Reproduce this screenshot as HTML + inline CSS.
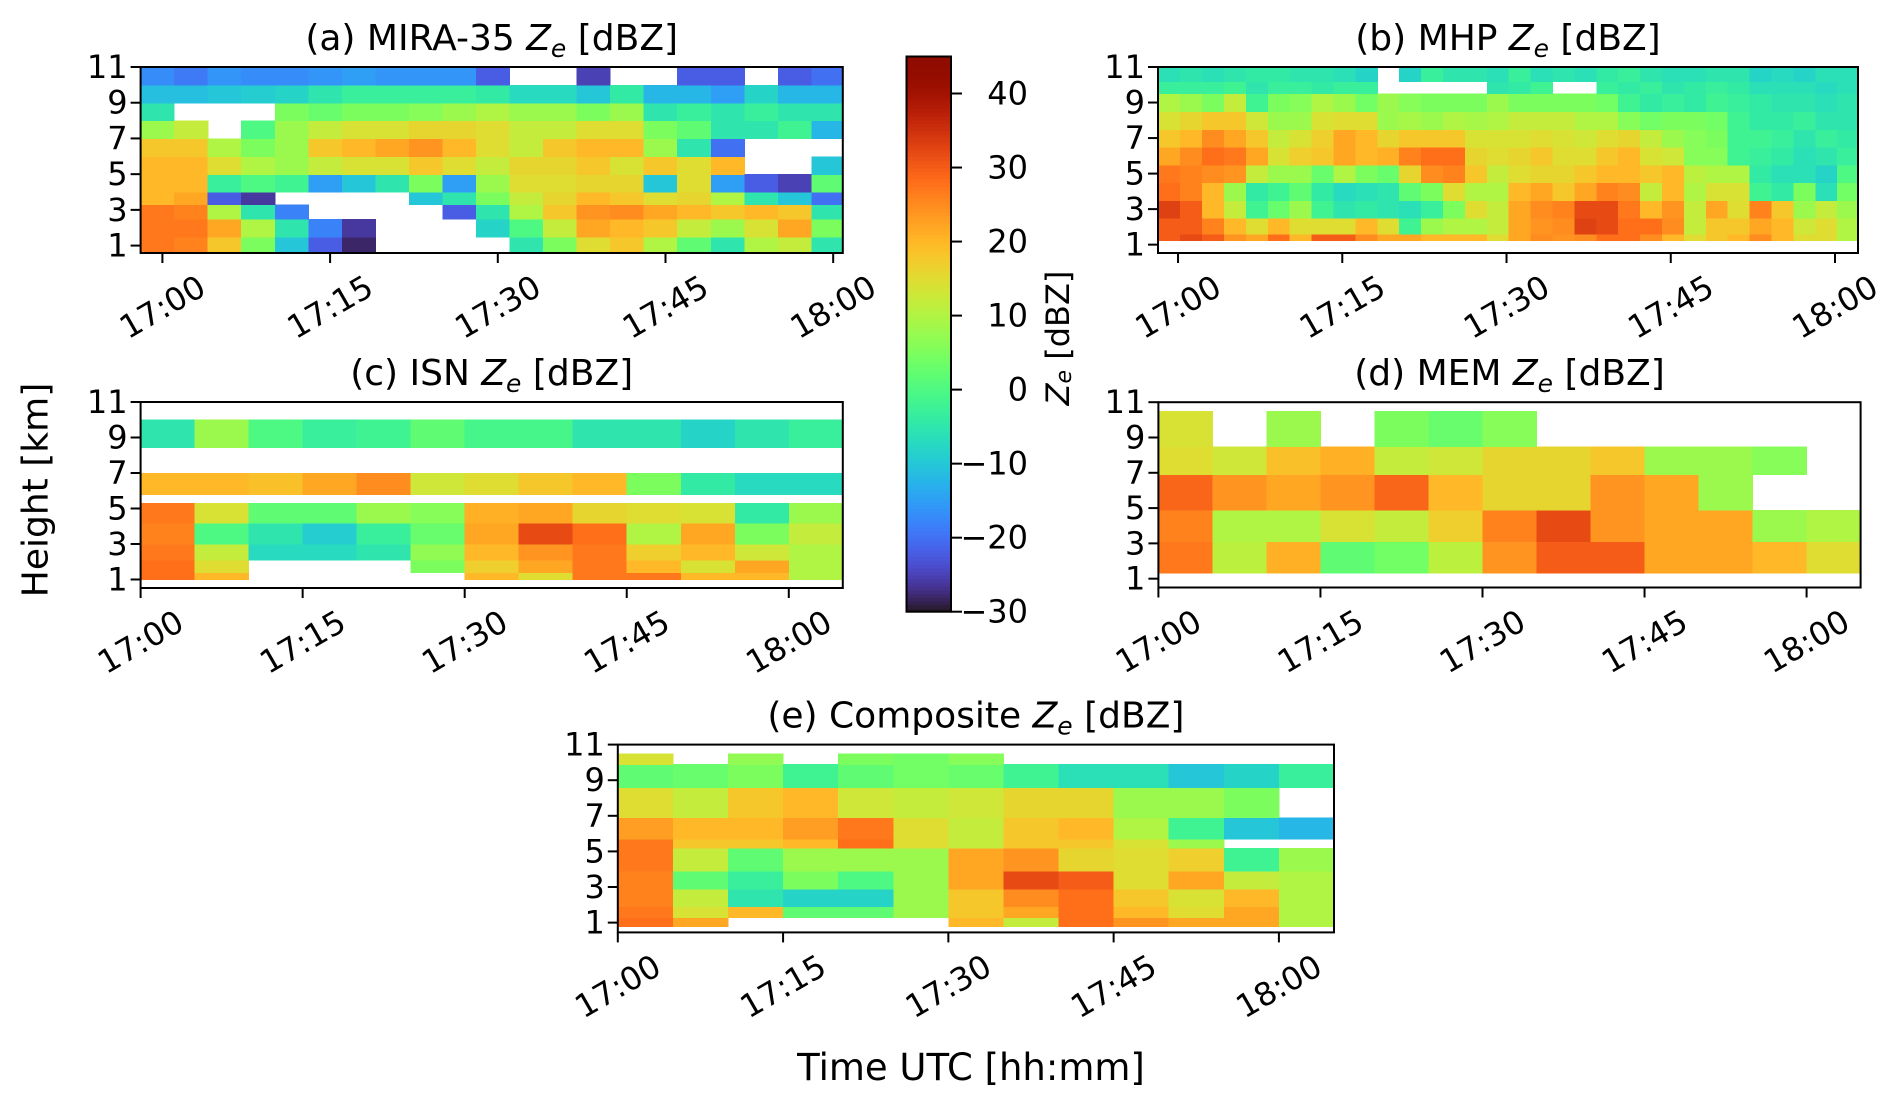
<!DOCTYPE html>
<html><head><meta charset="utf-8">
<style>
html,body{margin:0;padding:0;background:#fff;}
svg{display:block;font-family:"DejaVu Sans","Liberation Sans",sans-serif;}
</style></head>
<body>
<svg id="fig" width="1892" height="1105" viewBox="0 0 1892 1105" xmlns="http://www.w3.org/2000/svg">
<defs id="defs"></defs>
</svg>
<script>
// ---------- data (values in dBZ; null = no echo) ----------
const timeTicks = [0, 15, 30, 45, 60];
const timeTickLabels = ["17:00", "17:15", "17:30", "17:45", "18:00"];
const heightTicks = [1, 3, 5, 7, 9, 11];
const cbarTicks = [40, 30, 20, 10, 0, -10, -20, -30];
const cbarTickLabels = ["40", "30", "20", "10", "0", "\u221210", "\u221220", "\u221230"];

// (a) MIRA-35: columns of 3 min starting at -1.95 min
const miraColStart = -1.95;
const miraColWidth = 3;
const miraEdges = [0.6, 1.5, 2.5, 3.3, 4, 5, 6, 7, 8, 9, 10, 11];
const miraValues = [
 [27,27,27,20,20,20,18,8,-5,-11,-17],
 [26,27,26,22,20,20,18,12,null,-11,-19],
 [18,22,10,-22,-3,15,10,null,null,-10,-16],
 [5,10,-5,-26,0,10,5,0,null,-9,-17],
 [-10,-5,-18,null,-2,8,8,8,5,-8,-17],
 [-22,-18,null,null,-15,12,18,12,3,-5,-16],
 [-28,-26,null,null,-10,14,20,14,5,-3,-15],
 [null,null,null,null,-5,14,22,14,5,-3,-16],
 [null,null,null,-10,5,18,24,16,6,-3,-16],
 [null,null,-22,-5,-15,15,20,16,8,-3,-16],
 [null,-8,-5,5,8,12,15,15,10,-4,-22],
 [-5,0,10,12,15,16,12,12,8,-7,null],
 [5,12,18,16,15,16,18,12,8,-7,null],
 [15,22,24,20,16,18,20,15,5,-10,-25],
 [18,20,25,18,16,14,20,15,8,-4,null],
 [10,18,22,15,-10,18,8,5,-5,-12,null],
 [2,12,20,16,15,15,-5,2,-3,-12,-22],
 [-5,8,18,10,-15,20,-20,-5,-5,-15,-22],
 [10,14,20,-5,-22,null,null,-5,-3,-8,null],
 [12,22,18,-10,-25,null,null,-2,-5,-12,-22],
 [-5,5,-5,-20,2,-10,null,-12,-5,-12,-20]
];

// (b) MHP: columns of 2 min starting at -1.8 min
const mhpColStart = -1.8;
const mhpColWidth = 2;
const mhpEdges = [1.25, 1.6, 2.5, 3.5, 4.5, 5.5, 6.5, 7.5, 8.5, 9.5, 10.2, 11];
const mhpValues = [
 [30,30,33,28,27,22,18,14,10,-3,-6],
 [32,30,30,26,26,25,20,16,8,-3,-5],
 [30,26,20,20,25,28,25,18,5,-3,-6],
 [24,20,12,8,24,27,22,18,12,-2,-5],
 [22,15,-2,-4,12,22,18,13,-2,-5,-4],
 [28,20,3,-2,8,14,12,8,5,-3,-4],
 [20,15,8,2,8,17,14,8,6,-3,-5],
 [30,15,-2,-4,3,18,17,14,10,-4,-5],
 [30,15,-5,-7,10,22,22,15,8,-3,-6],
 [25,20,-4,-6,5,20,20,15,4,-3,-8],
 [22,15,-5,-5,3,21,16,8,8,null,null],
 [22,-2,-6,2,16,26,18,9,6,null,-8],
 [20,8,-3,5,25,28,18,8,5,null,-3],
 [20,10,5,15,26,28,18,10,5,null,-5],
 [20,10,15,10,18,16,14,9,5,null,-5],
 [15,12,12,10,12,15,14,10,8,-5,-6],
 [22,22,22,20,15,16,14,12,5,-4,-3],
 [25,24,25,22,16,18,15,12,5,-2,-6],
 [24,25,26,18,16,15,14,12,5,null,-5],
 [25,33,32,22,18,15,13,10,5,null,-6],
 [28,32,32,26,20,18,15,10,4,-3,-4],
 [28,28,27,25,20,20,16,6,-2,-4,-3],
 [25,28,20,12,18,14,12,4,-4,-3,-5],
 [20,25,24,20,20,13,8,5,-3,-5,-6],
 [15,12,12,10,11,6,6,5,-4,-4,-6],
 [18,18,22,14,10,6,5,4,-2,-3,-5],
 [20,18,15,14,10,-2,-2,-2,-3,-4,-5],
 [25,22,26,-2,-4,-3,-2,-4,-4,-6,-8],
 [20,20,18,-4,-6,-4,-3,-4,-5,-6,-7],
 [15,13,8,5,-6,-6,-5,-3,-5,-6,-8],
 [15,15,12,-6,-8,-5,-3,-5,-6,-7,-6],
 [10,10,8,4,0,-3,-4,-5,-5,-6,-6]
];

// (c) ISN: 5-min columns
const isnColStart = 0;
const isnColWidth = 5;
const isnEdges = [1.0, 1.4, 2.1, 3.0, 4.2, 5.3, 5.8, 7.0, 8.45, 10.0];
const isnValues = [
 [28,28,27,26,27,null,20,null,-5],
 [20,15,12,0,14,null,20,null,8],
 [null,null,-7,-5,2,null,19,null,0],
 [null,null,-7,-9,2,null,22,null,-3],
 [null,null,-5,-3,8,null,25,null,-2],
 [null,5,7,3,6,null,13,null,2],
 [20,17,20,22,21,null,15,null,-1],
 [15,22,24,32,22,null,18,null,-1],
 [27,27,27,28,16,null,20,null,-5],
 [27,20,17,10,15,null,5,null,-5],
 [20,14,20,22,14,null,-4,null,-8],
 [20,22,13,5,-4,null,-7,null,-5],
 [10,10,10,12,8,null,-7,null,-3]
];

// (d) MEM
const memColStart = 0;
const memColWidth = 5;
const memEdges = [1.32, 3.1, 4.9, 6.9, 8.5, 10.5];
const memValues = [
 [27,26,29,15,14],
 [11,10,24,13,null],
 [21,10,22,19,8],
 [2,14,24,21,null],
 [4,12,29,12,5],
 [11,17,20,13,3],
 [24,26,16,16,6],
 [30,32,16,16,null],
 [30,24,24,18,null],
 [22,22,22,8,null],
 [22,22,8,8,null],
 [20,8,null,6,null],
 [15,10,null,null,null]
];

// (e) Composite
const compColStart = 0;
const compColWidth = 5;
const compEdges = [0.8, 1.3, 1.9, 2.9, 3.9, 5.2, 5.7, 6.9, 8.6, 9.9, 10.5];
const compValues = [
 [28,27,26,26,27,27,23,15,2,14],
 [22,14,12,2,12,18,20,12,3,null],
 [null,20,-5,-3,2,18,20,18,5,7],
 [null,2,-8,5,8,20,23,20,-2,null],
 [null,2,-8,0,8,28,27,13,2,5],
 [null,8,8,8,8,15,15,12,4,4],
 [20,18,18,22,22,12,12,13,3,6],
 [12,22,25,32,24,18,18,16,-2,null],
 [28,28,28,30,16,18,20,16,-6,null],
 [24,20,18,15,15,14,10,8,-6,null],
 [22,15,14,22,17,8,-2,8,-10,null],
 [22,22,20,12,-2,null,-10,5,-8,null],
 [10,10,10,10,8,null,-12,null,-3,null]
];

const VMIN = -30, VMAX = 45;

// ---------- rendering ----------
const NS = "http://www.w3.org/2000/svg";
const svg = document.getElementById('fig');
const defs = document.getElementById('defs');

function turbo(v) {
  let x = (v - VMIN) / (VMAX - VMIN);
  x = Math.max(0, Math.min(1, x));
  const r = 0.13572138 + x*(4.61539260 + x*(-42.66032258 + x*(132.13108234 + x*(-152.94239396 + x*59.28637943))));
  const g = 0.09140261 + x*(2.19418839 + x*(4.84296658 + x*(-14.18503333 + x*(4.27729857 + x*2.82956604))));
  const b = 0.10667330 + x*(12.64194608 + x*(-60.58204836 + x*(110.36276771 + x*(-89.90310912 + x*27.34824973))));
  const c = t => Math.round(255 * Math.max(0, Math.min(1, t)));
  return `rgb(${c(r)},${c(g)},${c(b)})`;
}

function mk(tag, attrs, parent) {
  const e = document.createElementNS(NS, tag);
  for (const k in attrs) e.setAttribute(k, attrs[k]);
  (parent || svg).appendChild(e);
  return e;
}

const TICK_FS = 32, TITLE_FS = 36;

function drawPanel(p) {
  const g = mk('g', {});
  
  
  const xs = t => p.x0 + (t - p.tmin) / (p.tmax - p.tmin) * (p.x1 - p.x0);
  const ys = h => p.y1 - (h - p.hmin) / (p.hmax - p.hmin) * (p.y1 - p.y0);
  const cid = 'clip-' + p.name;
  const cp = mk('clipPath', {id: cid}, defs);
  mk('rect', {x: p.x0, y: p.y0, width: p.x1 - p.x0, height: p.y1 - p.y0}, cp);
  const cells = mk('g', {'clip-path': `url(#${cid})`, 'shape-rendering': 'crispEdges'}, g);
  
  
  p.values.forEach((col, i) => {
    const ta = p.colStart + i * p.colWidth, tb = ta + p.colWidth;
    col.forEach((v, j) => {
      if (v === null) return;
      const xa = xs(ta), xb = xs(tb), ya = ys(p.edges[j + 1]), yb = ys(p.edges[j]);
      const r = mk('rect', {x: xa, y: ya, width: xb - xa + 0.6, height: yb - ya + 0.6, fill: turbo(v)}, cells);
      
      
    });
  });
  const frame = mk('rect', {x: p.x0, y: p.y0, width: p.x1 - p.x0, height: p.y1 - p.y0, fill: 'none', stroke: '#000', 'stroke-width': 2}, g);
  
  
  heightTicks.forEach(h => {
    const y = ys(h);
    mk('line', {x1: p.x0 - 10, x2: p.x0, y1: y, y2: y, stroke: '#000', 'stroke-width': 2}, g);
    const t = mk('text', {x: p.x0 - 13, y: y, 'font-size': TICK_FS, 'text-anchor': 'end', 'dominant-baseline': 'central'}, g);
    
    
    t.textContent = String(h);
  });
  timeTicks.forEach((tm, k) => {
    const x = xs(tm);
    mk('line', {x1: x, x2: x, y1: p.y1, y2: p.y1 + 10, stroke: '#000', 'stroke-width': 2}, g);
    const cy = p.y1 + 54;
    const t = mk('text', {x: x, y: cy, 'font-size': TICK_FS, 'text-anchor': 'middle', 'dominant-baseline': 'central', transform: `rotate(-30 ${x} ${cy})`}, g);
    
    
    t.textContent = timeTickLabels[k];
  });
  const tt = mk('text', {x: (p.x0 + p.x1) / 2, y: p.y0 - 17, 'font-size': TITLE_FS, 'text-anchor': 'middle'}, g);
  
  
  tt.innerHTML = p.title + ' <tspan font-style="italic">Z</tspan><tspan font-style="italic" font-size="25" dy="7">e</tspan><tspan dy="-7"> [dBZ]</tspan>';
}

drawPanel({name:'panel-a-mira35', title:'(a) MIRA-35', x0:140.6, x1:842.8, y0:67, y1:253, tmin:-1.95, tmax:60.86, hmin:0.585, hmax:11, colStart:miraColStart, colWidth:miraColWidth, edges:miraEdges, values:miraValues});
drawPanel({name:'panel-b-mhp', title:'(b) MHP', x0:1158, x1:1858, y0:67, y1:253, tmin:-1.83, tmax:62.1, hmin:0.53, hmax:11, colStart:mhpColStart, colWidth:mhpColWidth, edges:mhpEdges, values:mhpValues});
drawPanel({name:'panel-c-isn', title:'(c) ISN', x0:140.6, x1:842.8, y0:402, y1:588, tmin:0, tmax:65, hmin:0.52, hmax:11, colStart:isnColStart, colWidth:isnColWidth, edges:isnEdges, values:isnValues});
drawPanel({name:'panel-d-mem', title:'(d) MEM', x0:1158.4, x1:1860.6, y0:402.2, y1:587.5, tmin:0, tmax:65, hmin:0.5, hmax:11, colStart:memColStart, colWidth:memColWidth, edges:memEdges, values:memValues});
drawPanel({name:'panel-e-composite', title:'(e) Composite', x0:617.8, x1:1334, y0:744.6, y1:932.4, tmin:0, tmax:65, hmin:0.45, hmax:11, colStart:compColStart, colWidth:compColWidth, edges:compEdges, values:compValues});

// colorbar
(function(){
  const cx0 = 906.5, cx1 = 951, cy0 = 56.5, cy1 = 611.7;
  const g = mk('g', {});
  
  
  const yv = v => cy1 - (v - VMIN) / (VMAX - VMIN) * (cy1 - cy0);
  const N = 150;
  for (let i = 0; i < N; i++) {
    const va = VMIN + (VMAX - VMIN) * i / N, vb = VMIN + (VMAX - VMIN) * (i + 1) / N;
    mk('rect', {x: cx0, y: yv(vb), width: cx1 - cx0, height: yv(va) - yv(vb) + 0.8, fill: turbo((va + vb) / 2), 'shape-rendering': 'crispEdges'}, g);
  }
  mk('rect', {x: cx0, y: cy0, width: cx1 - cx0, height: cy1 - cy0, fill: 'none', stroke: '#000', 'stroke-width': 2}, g);
  cbarTicks.forEach((v, k) => {
    const y = yv(v);
    mk('line', {x1: cx1, x2: cx1 + 11, y1: y, y2: y, stroke: '#000', 'stroke-width': 2}, g);
    const t = mk('text', {x: 1028, y: y, 'font-size': TICK_FS, 'text-anchor': 'end', 'dominant-baseline': 'central'}, g);
    
    
    t.textContent = cbarTickLabels[k];
  });
  const lab = mk('text', {x: 1058, y: 338, 'font-size': TICK_FS, 'text-anchor': 'middle', 'dominant-baseline': 'central', transform: 'rotate(-90 1058 338)'}, g);
  
  
  lab.innerHTML = '<tspan font-style="italic">Z</tspan><tspan font-style="italic" font-size="22" dy="6">e</tspan><tspan dy="-6"> [dBZ]</tspan>';
})();

const yl = mk('text', {x: 36, y: 490, 'font-size': 36, 'text-anchor': 'middle', 'dominant-baseline': 'central', transform: 'rotate(-90 36 490)'});


yl.textContent = 'Height [km]';
const xl = mk('text', {x: 971, y: 1080, 'font-size': 37, 'text-anchor': 'middle'});


xl.textContent = 'Time UTC [hh:mm]';
</script>
</body></html>
